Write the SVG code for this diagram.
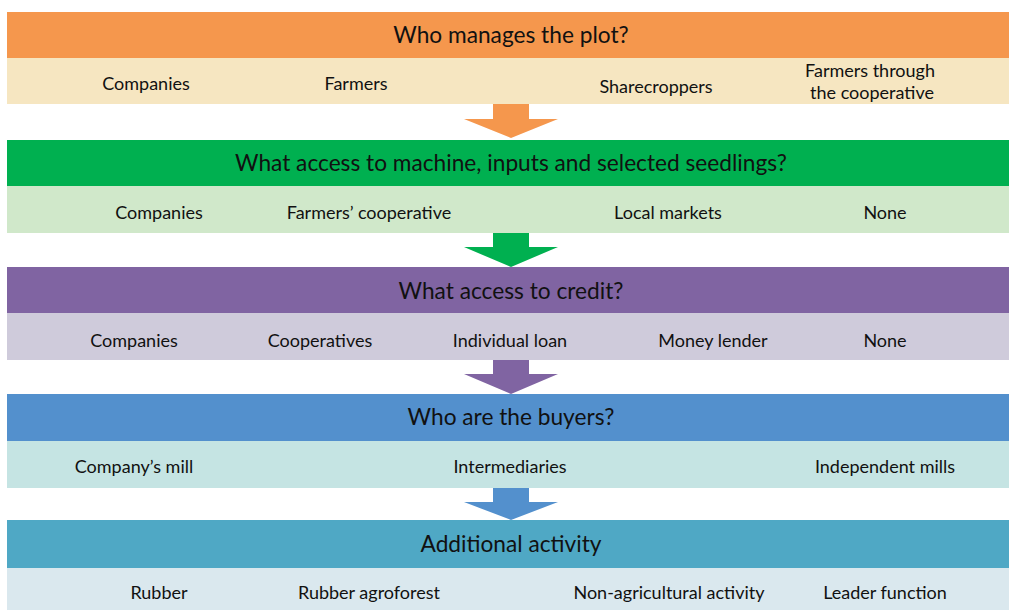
<svg xmlns="http://www.w3.org/2000/svg" width="1009" height="610" viewBox="0 0 1009 610">
<style>
.h{font-family:Lato,"Liberation Sans",sans-serif;font-size:22.7px;fill:#111;text-anchor:middle;dominant-baseline:central}
.s{font-family:Lato,"Liberation Sans",sans-serif;font-size:18px;fill:#111;text-anchor:middle;dominant-baseline:central}
</style>
<rect width="1009" height="610" fill="#fff"/>
<g id="connectors">
<path d="M493 104H529V119H558L511 138L464 119H493Z" fill="#F5974D"/>
<path d="M493 233H529V247H558L511 267L464 247H493Z" fill="#00B050"/>
<path d="M493 360H529V374H558L511 394L464 374H493Z" fill="#8064A2"/>
<path d="M493 488H529V502H558L511 520L464 502H493Z" fill="#5390CD"/>
</g>
<g id="node1">
<rect x="7" y="12" width="1002" height="46" fill="#F5974D"/>
<rect x="7" y="58" width="1002" height="46" fill="#F6E6C1"/>
<text class="h" x="511" y="34">Who manages the plot?</text>
<text class="s" x="146" y="83">Companies</text>
<text class="s" x="356" y="83">Farmers</text>
<text class="s" x="656" y="86">Sharecroppers</text>
<text class="s" x="870" y="70">Farmers through</text>
<text class="s" x="872" y="92">the cooperative</text>
</g>
<g id="node2">
<rect x="7" y="140" width="1002" height="46" fill="#00B050"/>
<rect x="7" y="186" width="1002" height="47" fill="#D0E8CA"/>
<text class="h" x="511" y="162">What access to machine, inputs and selected seedlings?</text>
<text class="s" x="159" y="212">Companies</text>
<text class="s" x="369" y="212">Farmers’ cooperative</text>
<text class="s" x="668" y="212">Local markets</text>
<text class="s" x="885" y="212">None</text>
</g>
<g id="node3">
<rect x="7" y="267" width="1002" height="46" fill="#8064A2"/>
<rect x="7" y="313" width="1002" height="47" fill="#CFCBDB"/>
<text class="h" x="511" y="290">What access to credit?</text>
<text class="s" x="134" y="340">Companies</text>
<text class="s" x="320" y="340">Cooperatives</text>
<text class="s" x="510" y="340">Individual loan</text>
<text class="s" x="713" y="340">Money lender</text>
<text class="s" x="885" y="340">None</text>
</g>
<g id="node4">
<rect x="7" y="394" width="1002" height="47" fill="#5390CD"/>
<rect x="7" y="441" width="1002" height="47" fill="#C5E4E3"/>
<text class="h" x="511" y="416">Who are the buyers?</text>
<text class="s" x="134" y="466">Company’s mill</text>
<text class="s" x="510" y="466">Intermediaries</text>
<text class="s" x="885" y="466">Independent mills</text>
</g>
<g id="node5">
<rect x="7" y="520" width="1002" height="48" fill="#4FA8C5"/>
<rect x="7" y="568" width="1002" height="42" fill="#DAE8EE"/>
<text class="h" x="511" y="543">Additional activity</text>
<text class="s" x="159" y="592">Rubber</text>
<text class="s" x="369" y="592">Rubber agroforest</text>
<text class="s" x="669" y="592">Non-agricultural activity</text>
<text class="s" x="885" y="592">Leader function</text>
</g>
</svg>
